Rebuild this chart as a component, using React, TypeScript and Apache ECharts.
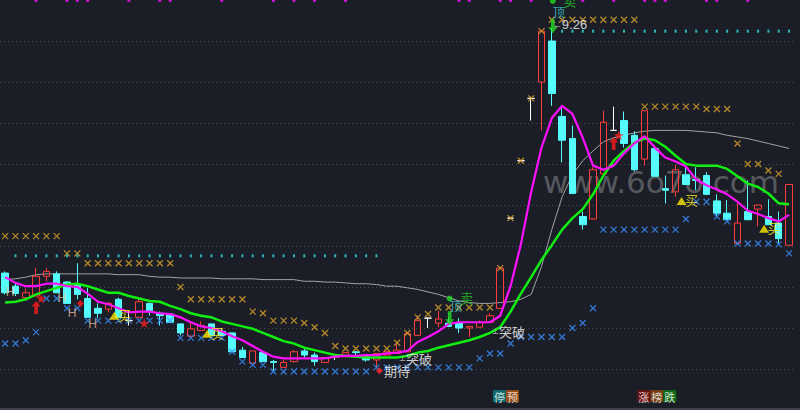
import { useEffect, useRef } from "react";
import * as echarts from "echarts";

// ---------- data (prices) ----------
const opens = [6.27,6.11,5.97,5.99,6.23,6.26,6.16,6.13,5.96,5.84,5.83,5.95,5.69,5.73,5.90,5.78,5.77,5.65,5.50,5.57,5.65,5.56,5.54,5.33,5.17,5.30,5.19,5.12,5.19,5.32,5.27,5.18,5.25,5.25,5.31,5.25,5.21,5.27,5.29,5.31,5.51,5.72,5.66,5.66,5.66,5.60,5.61,5.67,5.84,6.94,7.64,8.40,8.60,9.10,8.18,7.91,6.96,6.93,7.48,8.01,8.13,7.95,7.66,7.79,7.30,7.26,7.47,7.41,7.46,7.15,7.00,6.63,7.02,7.05,6.96,6.88,6.61];
const closes = [6.03,6.02,6.03,6.23,6.29,6.03,5.90,6.01,5.73,5.78,5.90,5.73,5.69,5.92,5.81,5.75,5.67,5.54,5.59,5.63,5.51,5.51,5.31,5.24,5.32,5.19,5.18,5.18,5.31,5.27,5.19,5.24,5.25,5.30,5.30,5.21,5.29,5.31,5.33,5.53,5.69,5.72,5.71,5.62,5.60,5.62,5.67,5.75,6.33,6.94,7.64,8.40,9.22,8.46,7.89,7.24,6.86,7.53,8.11,8.01,7.85,7.53,8.25,7.45,7.28,7.53,7.35,7.40,7.23,7.00,6.92,6.88,6.92,7.10,6.86,6.69,7.35];
const lows = [6.01,5.99,5.93,5.99,6.17,6.03,5.90,5.95,5.73,5.72,5.79,5.72,5.63,5.72,5.75,5.63,5.66,5.51,5.48,5.57,5.51,5.50,5.31,5.24,5.17,5.19,5.07,5.12,5.18,5.24,5.14,5.18,5.21,5.25,5.27,5.19,5.12,5.27,5.29,5.31,5.51,5.60,5.61,5.61,5.54,5.49,5.61,5.67,5.83,6.94,7.64,8.13,8.01,8.31,7.62,7.24,6.80,6.92,7.48,8.01,7.80,7.51,7.58,7.45,7.12,7.20,7.35,7.28,7.22,6.96,6.92,6.63,6.92,6.84,6.86,6.63,6.61];
const highs = [6.29,6.14,6.08,6.33,6.33,6.29,6.17,6.39,6.09,5.90,5.92,5.97,5.78,5.96,5.91,5.80,5.77,5.65,5.67,5.68,5.65,5.60,5.54,5.37,5.32,5.30,5.21,5.21,5.33,5.36,5.30,5.24,5.27,5.30,5.32,5.25,5.29,5.31,5.42,5.55,5.75,5.73,5.81,5.73,5.72,5.62,5.69,5.78,6.35,6.94,7.64,8.42,9.22,9.26,8.28,8.07,7.02,7.56,8.25,8.30,8.24,8.00,8.25,7.83,7.46,7.59,7.56,7.56,7.50,7.23,7.16,7.14,7.40,7.10,7.17,7.02,7.35];

const ma5 = [6.22,6.15,6.11,6.11,6.14,6.14,6.11,6.10,6.02,5.92,5.89,5.84,5.79,5.80,5.80,5.78,5.77,5.73,5.67,5.62,5.60,5.56,5.50,5.45,5.38,5.31,5.25,5.23,5.23,5.23,5.23,5.23,5.25,5.26,5.26,5.27,5.27,5.29,5.30,5.32,5.43,5.49,5.56,5.65,5.67,5.67,5.67,5.67,5.75,6.11,6.62,7.26,7.80,8.16,8.31,8.21,7.92,7.58,7.53,7.58,7.73,7.85,7.94,7.80,7.68,7.63,7.57,7.41,7.34,7.29,7.23,7.14,7.03,6.99,6.94,6.90,6.98];
const ma10 = [5.91,5.92,5.95,6.01,6.05,6.09,6.13,6.14,6.11,6.07,6.03,6.03,5.99,5.96,5.93,5.92,5.87,5.83,5.78,5.75,5.73,5.68,5.65,5.62,5.59,5.54,5.49,5.44,5.41,5.36,5.33,5.30,5.27,5.26,5.25,5.24,5.24,5.24,5.24,5.26,5.30,5.32,5.36,5.39,5.42,5.45,5.49,5.54,5.61,5.80,6.02,6.22,6.43,6.61,6.80,6.94,7.05,7.23,7.46,7.64,7.76,7.86,7.91,7.89,7.81,7.70,7.60,7.58,7.58,7.58,7.54,7.45,7.36,7.32,7.24,7.12,7.11];
const maLong = [6.19,6.20,6.22,6.25,6.26,6.26,6.26,6.26,6.26,6.26,6.26,6.25,6.25,6.25,6.23,6.22,6.22,6.21,6.21,6.21,6.21,6.20,6.20,6.20,6.20,6.19,6.19,6.19,6.19,6.17,6.17,6.16,6.16,6.15,6.14,6.14,6.13,6.11,6.11,6.09,6.07,6.04,6.01,5.97,5.93,5.91,5.90,5.90,5.91,5.92,5.95,6.01,6.35,6.80,7.20,7.47,7.64,7.76,7.87,7.92,7.95,7.98,8.00,8.01,8.01,8.01,8.01,8.00,7.99,7.98,7.95,7.93,7.91,7.88,7.85,7.82,7.79];

const resistLevels = [6.72,6.72,6.72,6.72,6.72,6.72,6.51,6.51,6.39,6.39,6.39,6.39,6.39,6.39,6.39,6.39,6.39,6.10,5.95,5.95,5.95,5.95,5.95,5.95,5.80,5.78,5.69,5.69,5.69,5.66,5.61,5.54,5.38,5.35,5.35,5.35,5.35,5.35,5.42,5.54,5.73,5.77,5.85,5.85,5.85,5.85,5.85,5.85,6.33,6.94,7.64,8.40,9.22,9.36,9.36,9.36,9.36,9.36,9.36,9.36,9.36,9.36,8.30,8.30,8.30,8.30,8.30,8.30,8.27,8.27,8.27,7.85,7.60,7.60,7.52,7.48];
const supportLevels = [5.41,5.41,5.45,5.55,5.96,5.96,5.84,5.84,5.69,5.69,5.69,5.69,5.69,5.69,5.69,5.69,5.69,5.48,5.48,5.48,5.48,5.48,5.31,5.19,5.15,5.15,5.07,5.07,5.07,5.07,5.07,5.07,5.07,5.07,5.07,5.07,5.12,5.12,5.12,5.12,5.12,5.12,5.12,5.12,5.12,5.12,5.23,5.29,5.29,5.41,5.49,5.49,5.49,5.49,5.49,5.60,5.66,5.84,6.80,6.80,6.80,6.80,6.80,6.80,6.80,6.80,6.93,7.14,7.14,6.96,6.90,6.63,6.63,6.63,6.63,6.62,6.51];

const lowBand = { level: 6.48, from: 1, to: 36 };
const highBand = { level: 9.22, from: 54, to: 76 };
const topTickIdx = [3,6,7,8,12,15,16,21,26,28,30,33,44,45,48,49,51,56,59,62,63,64,68,69,72];
const topTickLevel = 9.595;

const buyIdx = [10, 19, 65, 73];
const buyLevels = [5.75, 5.53, 7.15, 6.81];
const upArrowIdx = [3, 59];
const upArrowLevels = [5.85, 7.85];
const starIdx = [3, 13, 59];
const starLevels = [5.96, 5.66, 7.95];
const diamondIdx = [7];
const diamondLevels = [5.9];
const hIdx = [0, 5, 6, 8];
const hLevels = [6.04, 5.97, 5.78, 5.65];
const breakIdx = [38, 47];
const breakLevels = [5.23, 5.56];
const hopeIdx = [36];
const hopeLevels = [5.08];
const topIdx = [43, 53];
const topDotLevels = [5.96, 9.59];
const topCharLevels = [5.87, 9.46];
const sellCharLevels = [5.97, 9.6];
const downArrowLevels = [5.72, 9.28];
const eventIdx = [47, 61];
const eventTexts = ["{t1|停}{t2|预}", "{t3|涨}{t4|榜}{t5|跌}"];
const eventLevel = 4.77;

const categories = opens.map((_, i) => `D${i + 1}`);

const X_PATH = "path://M0,0L10,10M10,0L0,10";
const UP_ARROW = "path://M5,0L10,6L7,6L7,14L3,14L3,6L0,6Z";
const DOWN_ARROW = "path://M3,0L7,0L7,8L10,8L5,14L0,8L3,8Z";
const STAR = "path://M50,0L61,35L98,35L68,57L79,91L50,70L21,91L32,57L2,35L39,35Z";
const CJK = '"Noto Sans CJK SC", sans-serif';

export default function App() {
  const ref = useRef<HTMLDivElement>(null);
  useEffect(() => {
    if (!ref.current) return;
    const chart = echarts.init(ref.current, undefined, { renderer: "svg" });
    const kData = opens.map((o, i) => [o, closes[i], lows[i], highs[i]]);
    const band = (b: { level: number; from: number; to: number }) => {
      const out: number[][] = [];
      for (let i = b.from; i <= b.to; i++) out.push([i, b.level]);
      return out;
    };
    const pairs = (idx: number[], lv: number[]) => idx.map((d, k) => [d, lv[k]]);
    const maxHigh = Math.max(...highs);
    const maxIdx = highs.indexOf(maxHigh);

    const option: any = {
      animation: false,
      backgroundColor: "#1b1e26",
      grid: { left: -6.6, right: 5.8, top: 0, bottom: -6 },
      xAxis: { type: "category", data: categories, boundaryGap: true, show: false },
      yAxis: {
        type: "value",
        min: 4.6,
        max: 9.6,
        interval: 0.5,
        axisLabel: { show: false },
        axisLine: { show: false },
        axisTick: { show: false },
        splitLine: {
          show: true,
          showMinLine: false,
          showMaxLine: false,
          lineStyle: { color: "#484b53", type: [1, 3], width: 1 },
        },
      },
      graphic: [
        {
          type: "text",
          left: 543,
          top: 166,
          z: 0,
          style: { text: "www.6o7o.com", fill: "rgba(200,200,200,0.36)", font: '31px "DejaVu Sans"' },
        },
        {
          type: "rect",
          left: 0,
          top: 408,
          z: 0,
          shape: { width: 800, height: 2 },
          style: { fill: "#3c3f47" },
        },
      ],
      series: [
        {
          type: "line",
          data: maLong,
          symbol: "none",
          lineStyle: { color: "#a3a3a3", width: 1 },
          z: 2,
        },
        {
          type: "candlestick",
          data: kData,
          barWidth: 7,
          itemStyle: {
            color: "rgba(0,0,0,0)",
            color0: "#54fcfc",
            borderColor: "#ff3c3c",
            borderColor0: "#54fcfc",
            borderColorDoji: "#ffffff",
            borderWidth: 1,
          },
          z: 3,
        },
        {
          type: "line",
          data: ma10,
          symbol: "none",
          lineStyle: { color: "#11ee11", width: 2.5 },
          z: 4,
        },
        {
          type: "line",
          data: ma5,
          symbol: "none",
          lineStyle: { color: "#ff11ff", width: 2.2 },
          z: 4,
        },
        {
          type: "scatter",
          data: resistLevels.map((v, i) => [i, v]),
          symbol: X_PATH,
          symbolSize: 6,
          itemStyle: { color: "rgba(0,0,0,0)", borderColor: "#dca22a", borderWidth: 1.3 },
          z: 5,
        },
        {
          type: "scatter",
          data: supportLevels.map((v, i) => [i, v]),
          symbol: X_PATH,
          symbolSize: 6,
          itemStyle: { color: "rgba(0,0,0,0)", borderColor: "#3a90ff", borderWidth: 1.3 },
          z: 5,
        },
        {
          type: "scatter",
          data: [...band(lowBand), ...band(highBand)],
          symbol: "rect",
          symbolSize: [2, 3],
          itemStyle: { color: "#33dde3" },
          z: 5,
        },
        {
          type: "scatter",
          data: topTickIdx.map((d) => [d, topTickLevel]),
          symbol: "rect",
          symbolSize: [3, 3],
          itemStyle: { color: "#ff11ff" },
          z: 5,
        },
        {
          type: "scatter",
          data: pairs(buyIdx, buyLevels),
          symbol: "triangle",
          symbolSize: [10, 8],
          symbolOffset: [6, 0],
          itemStyle: { color: "#ffe600" },
          label: {
            show: true,
            position: "inside",
            offset: [10, -1],
            formatter: "买",
            color: "#ffee22",
            fontSize: 13,
            fontFamily: CJK,
          },
          z: 6,
        },
        {
          type: "scatter",
          data: pairs(upArrowIdx, upArrowLevels),
          symbol: UP_ARROW,
          symbolSize: [9, 13],
          itemStyle: { color: "#ff1a1a" },
          z: 6,
        },
        {
          type: "scatter",
          data: pairs(starIdx, starLevels),
          symbol: STAR,
          symbolSize: 10,
          symbolOffset: [5, 0],
          itemStyle: { color: "#ff1a1a" },
          z: 6,
        },
        {
          type: "scatter",
          data: pairs(diamondIdx, diamondLevels),
          symbol: "diamond",
          symbolSize: 7,
          symbolOffset: [3, 0],
          itemStyle: { color: "#ff1a1a" },
          z: 6,
        },
        {
          type: "scatter",
          data: pairs(hopeIdx, hopeLevels),
          symbol: "diamond",
          symbolSize: 7,
          symbolOffset: [3, 0],
          itemStyle: { color: "#ff2a2a" },
          label: {
            show: true,
            position: "right",
            distance: 1,
            formatter: "期待",
            color: "#ffffff",
            fontSize: 13,
            fontFamily: CJK,
          },
          z: 6,
        },
        {
          type: "scatter",
          data: pairs(hIdx, hLevels),
          symbolSize: 0,
          label: {
            show: true,
            position: "inside",
            offset: [5, 0],
            formatter: "H",
            color: "#e6bb98",
            fontSize: 12,
            fontFamily: '"Liberation Sans", sans-serif',
          },
          z: 6,
        },
        {
          type: "scatter",
          data: pairs(breakIdx, breakLevels),
          symbolSize: 0,
          label: {
            show: true,
            position: "right",
            distance: 0,
            offset: [2, 0],
            formatter: "{s|⊥}{t|突破}",
            rich: {
              s: { fontSize: 8, color: "#ffffff" },
              t: { fontSize: 13, color: "#ffffff", fontFamily: CJK },
            },
          },
          z: 6,
        },
        {
          type: "scatter",
          data: pairs(topIdx, topDotLevels),
          symbol: "circle",
          symbolSize: 6,
          symbolOffset: [1, 0],
          itemStyle: { color: "#22dd22" },
          z: 6,
        },
        {
          type: "scatter",
          data: pairs(topIdx, downArrowLevels),
          symbol: DOWN_ARROW,
          symbolSize: [9, 14],
          symbolOffset: [1, 0],
          itemStyle: { color: "#22dd22" },
          z: 6,
        },
        {
          type: "scatter",
          data: pairs(topIdx, topCharLevels),
          symbolSize: 0,
          label: {
            show: true,
            position: "inside",
            offset: [7, 0],
            formatter: "顶",
            color: "#3ccfd6",
            fontSize: 12,
            fontFamily: CJK,
          },
          z: 6,
        },
        {
          type: "scatter",
          data: pairs(topIdx, sellCharLevels),
          symbolSize: 0,
          label: {
            show: true,
            position: "inside",
            offset: [18, 0],
            formatter: "卖",
            color: "#22cc22",
            fontSize: 13,
            fontFamily: CJK,
          },
          z: 6,
        },
        {
          type: "scatter",
          data: [[maxIdx, maxHigh]],
          symbolSize: 0,
          label: {
            show: true,
            position: "right",
            distance: 1,
            offset: [0, -3],
            formatter: `{a|←}{b|${maxHigh.toFixed(2)}}`,
            rich: {
              a: { fontSize: 9, color: "#ffffff" },
              b: { fontSize: 13, color: "#ffffff", fontFamily: '"Liberation Sans", sans-serif' },
            },
          },
          z: 6,
        },
        {
          type: "scatter",
          data: eventIdx.map((d, k) => ({
            value: [d, eventLevel],
            label: { formatter: eventTexts[k] },
          })),
          symbolSize: 0,
          label: {
            show: true,
            position: "right",
            distance: 0,
            offset: [3, 0],
            rich: {
              t1: { backgroundColor: "#0f7f80", color: "#fff", fontSize: 11, padding: [1, 1, 0, 1], fontFamily: CJK },
              t2: { backgroundColor: "#b5570f", color: "#fff", fontSize: 11, padding: [1, 1, 0, 1], fontFamily: CJK },
              t3: { backgroundColor: "#7d0c0c", color: "#fff", fontSize: 11, padding: [1, 1, 0, 1], fontFamily: CJK },
              t4: { backgroundColor: "#8c4a10", color: "#fff", fontSize: 11, padding: [1, 1, 0, 1], fontFamily: CJK },
              t5: { backgroundColor: "#0f7a12", color: "#fff", fontSize: 11, padding: [1, 1, 0, 1], fontFamily: CJK },
            },
          },
          z: 6,
        },
      ],
    };
    chart.setOption(option);
    return () => chart.dispose();
  }, []);
  return (
    <div
      ref={ref}
      style={{ position: "fixed", left: 0, top: 0, width: 800, height: 410 }}
    />
  );
}
